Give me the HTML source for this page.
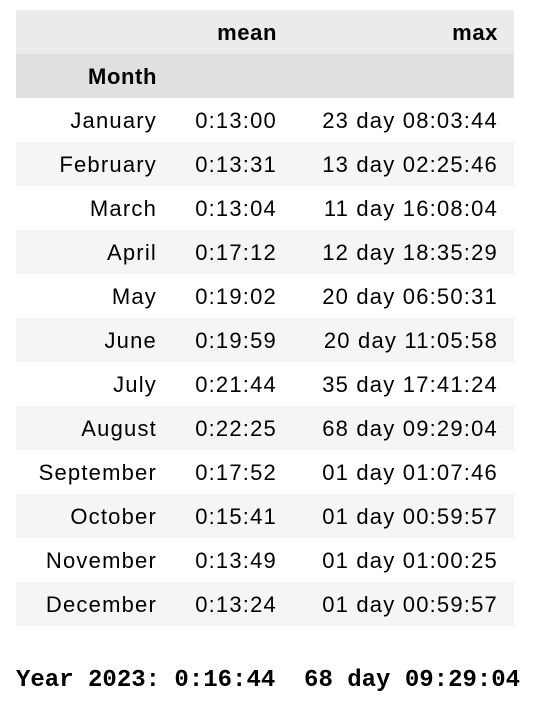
<!DOCTYPE html>
<html><head><meta charset="utf-8"><style>
body{margin:0;width:534px;height:706px;background:#fff;font-family:"Liberation Sans",sans-serif;position:relative;overflow:hidden}
.row{position:absolute;left:16px;width:498px;height:44px;font-size:22px;color:#000;letter-spacing:1.2px}
.row span{position:absolute;top:1px;line-height:44px;text-align:right;white-space:nowrap}
.c0{right:357px}.c1{right:237px}.c2{right:16px}
.h{font-weight:bold;letter-spacing:0.6px}
#foot{position:absolute;left:16px;top:665px;font-family:"Liberation Mono",monospace;font-weight:bold;font-size:24px;white-space:pre;line-height:32px}
</style></head><body>
<div class="row h" style="top:10px;background:#ebebeb">
<span class="c1">mean</span>
<span class="c2">max</span></div>
<div class="row h" style="top:54px;background:#e0e0e0">
<span class="c0">Month</span></div>
<div id="rows"></div>
<div id="foot">Year 2023: 0:16:44  68 day 09:29:04</div>
<script>
const months=["January","February","March","April","May","June","July","August","September","October","November","December"];
const means=["0:13:00","0:13:31","0:13:04","0:17:12","0:19:02","0:19:59","0:21:44","0:22:25","0:17:52","0:15:41","0:13:49","0:13:24"];
const maxes=["23 day 08:03:44","13 day 02:25:46","11 day 16:08:04","12 day 18:35:29","20 day 06:50:31","20 day 11:05:58","35 day 17:41:24","68 day 09:29:04","01 day 01:07:46","01 day 00:59:57","01 day 01:00:25","01 day 00:59:57"];
const c=document.getElementById('rows');
months.forEach((m,i)=>{
const r=document.createElement('div');r.className='row';


r.style.top=(98+44*i)+'px';r.style.background=i%2?'#f5f5f5':'#fff';
[[m,'c0'],[means[i],'c1'],[maxes[i],'c2']].forEach(([t,cl])=>{const s=document.createElement('span');s.className=cl;s.textContent=t;


r.appendChild(s);});
c.appendChild(r);});
</script>
</body></html>
